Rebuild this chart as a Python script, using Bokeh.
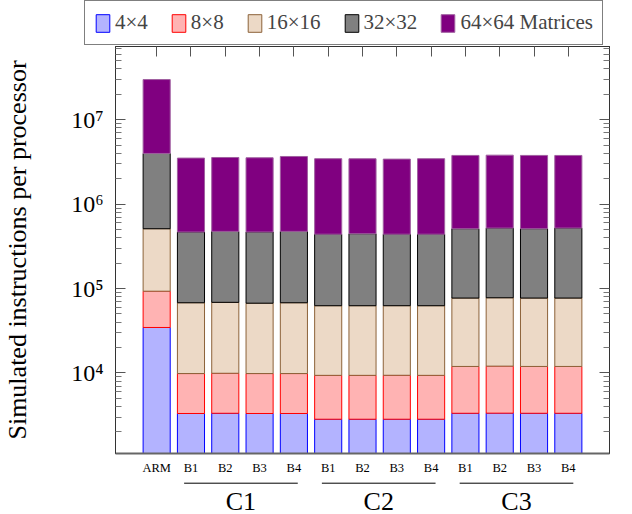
from bokeh.plotting import figure
from bokeh.models import (ColumnDataSource, Range1d, FixedTicker, LinearAxis, LogAxis,
                          Legend, LegendItem, CustomJSTickFormatter)
from bokeh.core.properties import value
from bokeh.transform import stack
from bokeh.embed import file_html
from bokeh.resources import INLINE

# ---------------- data ----------------
categories = ["ARM", "B1", "B2", "B3", "B4", "B1", "B2", "B3", "B4", "B1", "B2", "B3", "B4"]
groups = ["C1", "C2", "C3"]
group_members = [[1, 2, 3, 4], [5, 6, 7, 8], [9, 10, 11, 12]]
series_names = ["4×4", "8×8", "16×16", "32×32", "64×64 Matrices"]
m4 = [34600, 3310, 3330, 3310, 3310, 2830, 2830, 2830, 2830, 3330, 3340, 3330, 3330]
m8 = [58500, 6530, 6590, 6530, 6530, 6540, 6540, 6560, 6540, 8620, 8710, 8620, 8620]
m16 = [419000, 58100, 58800, 57300, 58100, 53300, 53300, 53300, 53300, 65300, 65800, 65300, 65300]
m32 = [3480000, 400000, 407000, 401000, 408000, 378000, 384000, 378000, 378000, 435000, 443000, 435000, 444000]
m64 = [26000000, 3050000, 3100000, 3080000, 3200000, 3020000, 3010000, 2980000, 3020000, 3270000, 3290000, 3270000, 3260000]
y_ticks = [1e4, 1e5, 1e6, 1e7]

fills = ["#b3b3ff", "#ffb3b3", "#ecd9c6", "#808080", "#800080"]
lines = ["#0000ff", "#ff0000", "#8c6239", "#000000", "#a060a0"]

SERIF = "Liberation Serif"
W = 632
LEFT, RIGHT = 113, 23

xs = list(range(len(categories)))
cols = ["m4", "m8", "m16", "m32", "m64"]
source = ColumnDataSource(dict(x=xs, m4=m4, m8=m8, m16=m16, m32=m32, m64=m64))

# ---------------- legend strip (own root, frame = whole strip) ----------------
lg = figure(width=W, height=45, output_backend="svg", toolbar_location=None,
            x_range=Range1d(0, 1), y_range=Range1d(0, 1),
            min_border_left=0, min_border_right=0, min_border_top=0, min_border_bottom=0)
lg.axis.visible = False
lg.grid.visible = False
lg.outline_line_color = None
offscreen = ColumnDataSource(dict(x=[-5], top=[-5]))
leg_renderers = [lg.vbar(x="x", top="top", width=0.5, source=offscreen,
                         fill_color=f, line_color=l, line_width=1)
                 for f, l in zip(fills, lines)]
items = [LegendItem(label=n, renderers=[r]) for n, r in zip(series_names, leg_renderers)]
legend = Legend(items=items, orientation="horizontal", location=(84, 0),
                label_text_font=SERIF, label_text_font_size="21px",
                glyph_width=17, glyph_height=22, label_standoff=4, spacing=22,
                padding=9, margin=0, border_line_color="black", border_line_width=1,
                background_fill_alpha=1, background_fill_color="white")
lg.add_layout(legend)

# ---------------- main chart ----------------
p = figure(width=W, height=432, output_backend="svg", toolbar_location=None,
           y_axis_type="log", x_range=Range1d(-1.2, 13.2), y_range=Range1d(1111, 7.39e7),
           min_border_left=LEFT, min_border_right=RIGHT, min_border_top=1, min_border_bottom=20)
p.grid.visible = False
p.outline_line_color = "#333333"
p.outline_line_width = 1

for i, c in enumerate(cols):
    bottom = 1 if i == 0 else stack(*cols[:i])
    p.vbar(x="x", width=0.79, bottom=bottom, top=stack(*cols[:i + 1]), source=source,
           fill_color=fills[i], line_color=lines[i], line_width=1)

blank = CustomJSTickFormatter(code="return '';")

minor = [m * 10 ** e for e in range(2, 8) for m in range(2, 10)]
sup_js = """
const sup = {"0":"\u2070","1":"\u00b9","2":"\u00b2","3":"\u00b3","4":"\u2074","5":"\u2075","6":"\u2076","7":"\u2077","8":"\u2078","9":"\u2079","-":"\u207b"};
const e = Math.round(Math.log10(tick));
return "10" + String(e).split("").map(c => sup[c]).join("");
"""
yax = p.yaxis[0]
yax.ticker = FixedTicker(ticks=y_ticks, minor_ticks=minor)
yax.formatter = CustomJSTickFormatter(code=sup_js)
yax.axis_label = "Simulated instructions per processor"
yax.axis_label_text_font = SERIF
yax.axis_label_text_font_style = "normal"
yax.axis_label_text_font_size = "26px"
yax.axis_label_text_color = "black"
yax.axis_label_standoff = 36
yax.major_label_text_font = SERIF
yax.major_label_text_font_size = "24px"
yax.major_label_text_color = "black"
yax.major_label_standoff = 12
yax.major_tick_in = 10
yax.major_tick_out = 0
yax.minor_tick_in = 6
yax.minor_tick_out = 0
yax.major_tick_line_color = "#555555"
yax.minor_tick_line_color = "#777777"
yax.axis_line_color = "#333333"

rax = LogAxis(ticker=FixedTicker(ticks=y_ticks, minor_ticks=minor), formatter=blank,
              major_label_standoff=0,
              major_tick_in=10, major_tick_out=0, minor_tick_in=6, minor_tick_out=0,
              major_tick_line_color="#555555", minor_tick_line_color="#777777",
              axis_line_color="#333333")
p.add_layout(rax, "right")

xax = p.xaxis[0]
xax.ticker = FixedTicker(ticks=xs)
xax.major_label_overrides = {i: lab for i, lab in enumerate(categories)}
xax.major_label_text_font = SERIF
xax.major_label_text_font_size = "12.5px"
xax.major_label_text_color = "black"
xax.major_label_standoff = 7
xax.major_tick_in = 0
xax.major_tick_out = 0
xax.minor_tick_line_color = None
xax.axis_line_color = "#666666"
xax.axis_line_width = 2

tax = LinearAxis(ticker=FixedTicker(ticks=xs), formatter=blank,
                 major_label_standoff=0, major_tick_in=10, major_tick_out=0,
                 major_tick_line_color="#555555", minor_tick_line_color=None,
                 axis_line_color="#333333")
p.add_layout(tax, "above")

# ---------------- group labels strip ----------------
g = figure(width=W, height=37, output_backend="svg", toolbar_location=None,
           x_range=p.x_range, y_range=Range1d(0, 37),
           min_border_left=LEFT, min_border_right=RIGHT, min_border_top=0, min_border_bottom=0)
g.axis.visible = False
g.grid.visible = False
g.outline_line_color = None
gx0 = [m[0] - 0.15 for m in group_members]
gx1 = [m[-1] + 0.15 for m in group_members]
gxc = [(m[0] + m[-1]) / 2 for m in group_members]
gsrc = ColumnDataSource(dict(x0=gx0, x1=gx1, xc=gxc, label=groups))
g.segment(x0="x0", x1="x1", y0=31.3, y1=31.3, source=gsrc, line_color="black", line_width=1)
g.text(x="xc", y=28, text="label", source=gsrc, text_font=value(SERIF), text_font_size="26px",
       text_align="center", text_baseline="top", text_color="black")

open("out.html", "w").write(file_html([lg, p, g], INLINE))
